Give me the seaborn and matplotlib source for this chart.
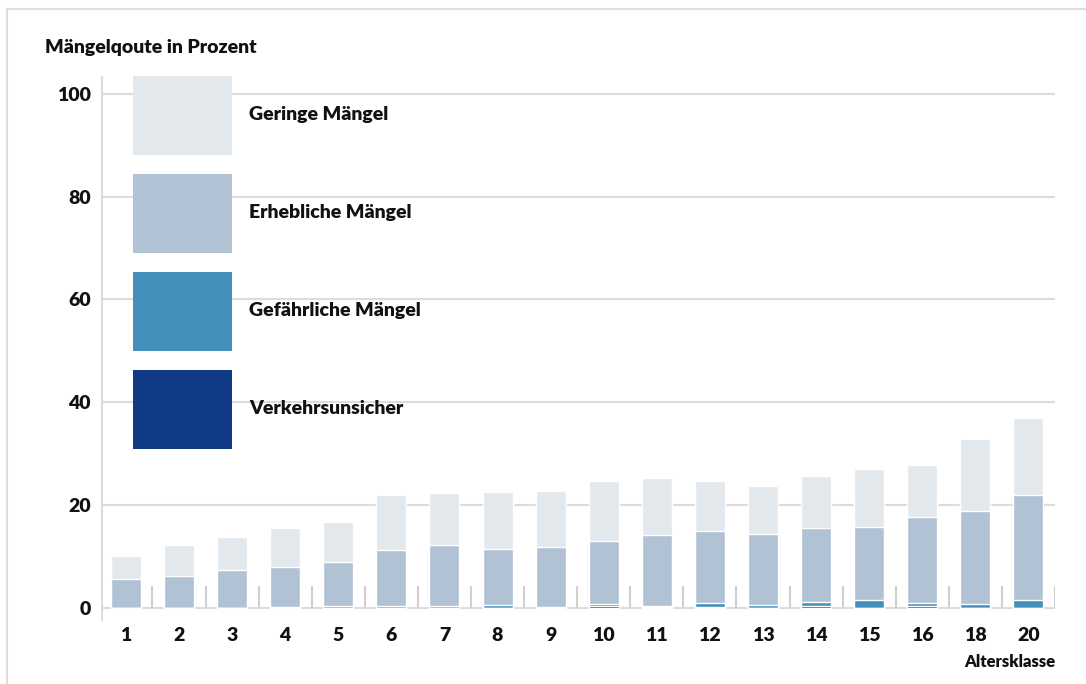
import numpy as np
import pandas as pd
import matplotlib.pyplot as plt
import seaborn as sns
from matplotlib.patches import Patch
from matplotlib.lines import Line2D
from matplotlib.ticker import MultipleLocator

# Altersklassen (Jahre) und Mängelanteile je Klasse in Prozent
altersklasse = ['1', '2', '3', '4', '5', '6', '7', '8', '9', '10',
                '11', '12', '13', '14', '15', '16', '18', '20']
verkehrsunsicher = [0, 0, 0, 0, 0, 0, 0, 0, 0, 0.25,
                    0.2, 0.2, 0, 0.4, 0, 0.4, 0, 0]
gefaehrlich = [0, 0, 0, 0.2, 0.4, 0.4, 0.4, 0.6, 0.2, 0.55,
               0.2, 0.8, 0.6, 0.8, 1.4, 0.6, 0.8, 1.4]
erheblich = [5.6, 6.2, 7.3, 7.7, 8.5, 10.8, 11.8, 10.8, 11.6, 12.1,
             13.8, 14.0, 13.8, 14.4, 14.4, 16.7, 18.1, 20.6]
gering = [4.5, 6.0, 6.5, 7.6, 7.8, 10.7, 10.1, 11.1, 10.9, 11.8,
          11.1, 9.7, 9.2, 10.1, 11.1, 10.0, 14.0, 15.0]

serien = ['Verkehrsunsicher', 'Gefährliche Mängel', 'Erhebliche Mängel', 'Geringe Mängel']
farben = ['#113a87', '#4390bd', '#b0c2d4', '#e3e8ed']

df = pd.DataFrame({
    'Altersklasse': altersklasse,
    'Verkehrsunsicher': verkehrsunsicher,
    'Gefährliche Mängel': gefaehrlich,
    'Erhebliche Mängel': erheblich,
    'Geringe Mängel': gering,
})
# cumulative heights for the stacked bars (bottom segment first)
stack = df[serien].cumsum(axis=1)
stack['Altersklasse'] = df['Altersklasse']

sns.set_style('white')
plt.rcParams['font.family'] = ['Lato', 'DejaVu Sans']
plt.rcParams['font.weight'] = 'heavy'
text_col = '#111111'
plt.rcParams['text.color'] = text_col
plt.rcParams['xtick.labelcolor'] = text_col
plt.rcParams['ytick.labelcolor'] = text_col

W, H = 1086, 684
fig = plt.figure(figsize=(W / 100, H / 100), dpi=100)
ax = fig.add_axes([102 / W, 1 - 620 / H, (1055 - 102) / W, (620 - 77) / H])

grid_col = '#dcdcdc'

# tallest stack first, then overpaint the lower segments
for name, color in zip(reversed(serien), reversed(farben)):
    sns.barplot(data=stack, x='Altersklasse', y=name, order=altersklasse,
                color=color, saturation=1, width=0.565, errorbar=None, ax=ax)

ax.set_xlim(-0.45, len(altersklasse) - 0.5)
ax.set_ylim(-2.4, 103.3)
ax.set_xlabel('')
ax.set_ylabel('')

ax.yaxis.set_major_locator(MultipleLocator(20))
ax.yaxis.set_minor_locator(MultipleLocator(10))
ax.grid(axis='y', which='major', color=grid_col, lw=1.5)
ax.set_axisbelow(True)

for side in ['top', 'right', 'bottom']:
    ax.spines[side].set_visible(False)
ax.spines['left'].set_color(grid_col)
ax.spines['left'].set_linewidth(1.5)

ax.tick_params(axis='y', which='major', length=0, pad=8, labelsize=14, labelcolor=text_col)
ax.tick_params(axis='y', which='minor', direction='in', length=16, width=1.5, color=grid_col)
ax.tick_params(axis='x', length=0, pad=5, labelsize=14, labelcolor=text_col)
for lab in ax.get_xticklabels() + ax.get_yticklabels():
    lab.set_fontweight('heavy')

# separators between age classes
ax.vlines(np.arange(len(altersklasse)) + 0.5, 0, 4.2, color='#d0d0d0', lw=1.5)

handles = [Patch(facecolor=c, edgecolor='none') for c in reversed(farben)]
ax.legend(handles, list(reversed(serien)), loc='upper left',
          bbox_to_anchor=(133 / W, 1 - 76 / H), bbox_transform=fig.transFigure,
          frameon=False, borderpad=0, borderaxespad=0,
          prop={'size': 14, 'weight': 'heavy'}, labelcolor=text_col,
          handlelength=5.09, handleheight=5.875, labelspacing=0.98, handletextpad=0.87)

fig.text(45 / W, 1 - 47 / H, 'Mängelqoute in Prozent', fontsize=14, fontweight='heavy', va='center')
fig.text(1055 / W, 1 - 662 / H, 'Altersklasse', fontsize=12, fontweight='heavy', ha='right', va='center')

# light frame on top and left like the original graphic
fig.add_artist(Line2D([7 / W, 7 / W], [0, 1 - 9 / H], transform=fig.transFigure, color='#dddddd', lw=1.5))
fig.add_artist(Line2D([7 / W, 1], [1 - 9 / H, 1 - 9 / H], transform=fig.transFigure, color='#dddddd', lw=1.5))

fig.savefig('out.png', dpi=100)
